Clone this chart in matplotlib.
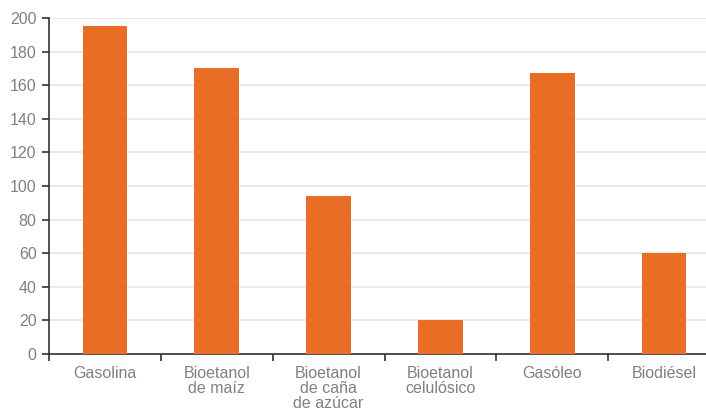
import matplotlib
matplotlib.use("Agg")
import matplotlib.pyplot as plt
import numpy as np

categories = ["Gasolina", "Bioetanol\nde maíz", "Bioetanol\nde caña\nde azúcar",
              "Bioetanol\ncelulósico", "Gasóleo", "Biodiésel"]
values = [195, 170, 94, 20, 167, 60]
yticks = [0, 20, 40, 60, 80, 100, 120, 140, 160, 180, 200]

plt.rcParams['font.family'] = ['Liberation Sans', 'DejaVu Sans']

fig = plt.figure(figsize=(7.06, 4.11), dpi=100)
W, H = 706, 411
left, right, bottom, top = 49, 720, 354, 18
ax = fig.add_axes([left / W, 1 - bottom / H, (right - left) / W, (bottom - top) / H])

x = np.arange(len(categories))
ax.bar(x, values, width=0.4, color="#E96D25", zorder=3)

ax.set_xlim(-0.5, len(categories) - 0.5)
ax.set_ylim(0, 200)
ax.set_yticks(yticks)
ax.yaxis.grid(True, color="#E6E6E6", linewidth=1.2, zorder=0)

ax.set_xticks(x)
ax.set_xticklabels(categories, fontsize=11.5, color="#808080", linespacing=0.98)
ax.set_xticks(np.arange(-0.5, len(categories) + 0.5, 1), minor=True)
ax.tick_params(axis="x", which="major", length=0, pad=9)
ax.tick_params(axis="x", which="minor", length=5, width=1.2, color="#333333", direction="out")
ax.tick_params(axis="y", length=5, width=1.2, color="#333333", labelsize=11.5,
               labelcolor="#808080", pad=4)

for s in ["top", "right"]:
    ax.spines[s].set_visible(False)
for s in ["left", "bottom"]:
    ax.spines[s].set_color("#333333")
    ax.spines[s].set_linewidth(1.2)

fig.savefig("out.png", dpi=100)
